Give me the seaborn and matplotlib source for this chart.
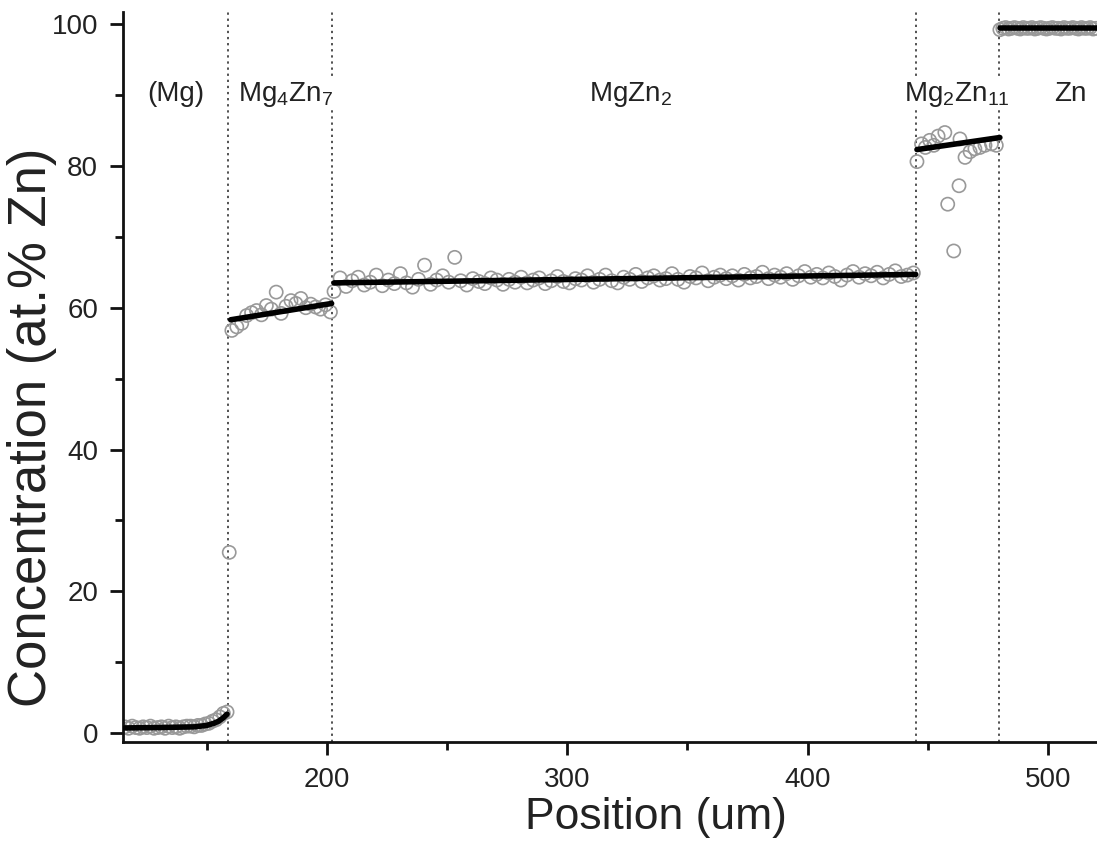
import numpy as np
import pandas as pd
import matplotlib
matplotlib.use("Agg")
import matplotlib.pyplot as plt
import seaborn as sns

# ---------------- data ----------------
# (Mg) solid solution
mg_pos = list(np.linspace(116.0, 158.5, 29)) + [159.4]
mg_conc = [0.9, 0.7, 1.0, 0.8, 0.7, 0.9, 0.8, 1.0, 0.7, 0.8, 0.9, 0.7, 1.0, 0.8, 0.9,
           0.7, 0.9, 1.0, 1.0, 0.9, 1.1, 1.1, 1.3, 1.4, 1.7, 1.9, 2.3, 2.8, 3.0, 25.5]

# Mg4Zn7
mg4_conc = [56.8, 57.3, 57.8, 58.9, 59.3, 59.6, 59.0, 60.3, 59.8, 62.2, 59.2, 60.2,
            61.0, 60.6, 61.3, 60.0, 60.5, 60.1, 59.8, 60.4, 59.4]
mg4_pos = list(np.linspace(160.5, 201.5, len(mg4_conc)))

# MgZn2
mgzn2_conc = [62.3, 64.2, 63.0, 63.8, 64.3, 63.2, 63.6, 64.6, 63.1, 63.9, 63.4, 64.8, 63.5,
              62.9, 64.0, 66.0, 63.3, 63.9, 64.5, 63.6, 67.1, 63.8, 63.2, 64.1, 63.7, 63.4,
              64.2, 63.9, 63.3, 64.0, 63.6, 64.3, 63.5, 63.9, 64.2, 63.4, 63.8, 64.4, 63.7,
              63.5, 64.1, 63.9, 64.5, 63.6, 64.0, 64.6, 63.8, 63.5, 64.3, 64.0, 64.7, 63.7,
              64.2, 64.5, 63.9, 64.1, 64.8, 64.0, 63.6, 64.4, 64.2, 64.9, 63.8, 64.3, 64.6,
              64.1, 64.5, 63.9, 64.7, 64.2, 64.4, 65.0, 64.1, 64.6, 64.3, 64.8, 64.0, 64.5,
              65.1, 64.3, 64.7, 64.2, 64.9, 64.4, 63.9, 64.6, 65.1, 64.3, 64.8, 64.5, 65.0,
              64.2, 64.7, 65.2, 64.4, 64.6, 64.9]
mgzn2_pos = list(np.linspace(203.0, 444.0, len(mgzn2_conc)))

# Mg2Zn11
mg2_pos = [445.5, 447.4, 449.0, 450.8, 452.5, 454.3, 457.1, 458.3, 460.8, 463.0, 463.4,
           465.5, 467.6, 469.6, 471.7, 473.8, 476.5, 478.5]
mg2_conc = [80.6, 83.1, 82.6, 83.6, 82.9, 84.2, 84.7, 74.6, 68.0, 77.2, 83.8,
            81.2, 82.0, 82.4, 82.6, 82.9, 83.1, 82.9]

# Zn
zn_conc = [99.2, 99.4, 99.5, 99.3, 99.4, 99.5, 99.4, 99.3, 99.5, 99.4, 99.4, 99.5, 99.3,
           99.4, 99.5, 99.4, 99.3, 99.4, 99.5, 99.4, 99.4, 99.3, 99.5, 99.4, 99.4, 99.5,
           99.4, 99.3, 99.5, 99.4, 99.4, 99.5, 99.3, 99.4]
zn_pos = list(np.linspace(480.0, 520.0, len(zn_conc)))

# fitted lines (x, y) per phase
fit_mg_x = [116, 130, 145, 150, 153, 155, 157, 158.5]
fit_mg_y = [0.75, 0.8, 0.9, 1.1, 1.4, 1.7, 2.2, 2.7]
fit_mg4_x = [160.0, 202.0]
fit_mg4_y = [58.3, 60.6]
fit_mgzn2_x = [203.0, 445.0]
fit_mgzn2_y = [63.5, 64.7]
fit_mg2_x = [445.5, 480.0]
fit_mg2_y = [82.3, 84.0]
fit_zn_x = [480.0, 521.0]
fit_zn_y = [99.4, 99.4]

boundaries = [159.0, 202.2, 445.0, 479.6]

phase_labels = ["(Mg)", r"Mg$_\mathregular{4}$Zn$_\mathregular{7}$", r"MgZn$_\mathregular{2}$",
                r"Mg$_\mathregular{2}$Zn$_\mathregular{11}$", "Zn"]
phase_label_x = [137.2, 182.8, 326.5, 462.0, 509.1]
phase_label_y = 89.2

# ---------------- plot ----------------
sns.set_theme(style="ticks")
plt.rcParams['font.family'] = ['Liberation Sans', 'DejaVu Sans']
plt.rcParams['mathtext.fontset'] = 'custom'
plt.rcParams['mathtext.rm'] = 'Liberation Sans'
plt.rcParams['mathtext.it'] = 'Liberation Sans'

fig = plt.figure(figsize=(10.97, 8.44), dpi=100)
ax = fig.add_axes([0.1121, 0.1209, 0.8879, 0.8649])

scatter_df = pd.DataFrame({
    "pos": mg_pos + mg4_pos + mgzn2_pos + mg2_pos + zn_pos,
    "conc": mg_conc + mg4_conc + mgzn2_conc + mg2_conc + zn_conc,
})

for b in boundaries:
    ax.axvline(b, color="#222222", lw=1.1, ls=(0, (1.5, 2.5)), zorder=1)

sns.scatterplot(data=scatter_df, x="pos", y="conc", ax=ax, marker="o", s=90,
                facecolors="none", edgecolor="#999999", linewidth=1.2, zorder=2,
                legend=False)

for fx, fy in [(fit_mg_x, fit_mg_y), (fit_mg4_x, fit_mg4_y), (fit_mgzn2_x, fit_mgzn2_y),
               (fit_mg2_x, fit_mg2_y), (fit_zn_x, fit_zn_y)]:
    sns.lineplot(x=fx, y=fy, ax=ax, color="black", lw=4, zorder=3, sort=False,
                 estimator=None)

for lab, lx in zip(phase_labels, phase_label_x):
    ax.text(lx, phase_label_y, lab, ha="center", va="baseline", fontsize=20,
            color="#222222", zorder=4,
            bbox=dict(facecolor="white", edgecolor="none", pad=1.0))

ax.set_xlim(115.2, 520.4)
ax.set_ylim(-1.23, 101.7)
ax.set_xticks([200, 300, 400, 500])
ax.set_xticks([150, 250, 350, 450], minor=True)
ax.set_yticks([0, 20, 40, 60, 80, 100])
ax.set_yticks([10, 30, 50, 70, 90], minor=True)

for side in ["top", "right"]:
    ax.spines[side].set_visible(False)
for side in ["left", "bottom"]:
    ax.spines[side].set_linewidth(2)
    ax.spines[side].set_color("#111111")

ax.tick_params(which="major", length=9.4, width=2, labelsize=20, colors="#111111",
               labelcolor="#222222", pad=8.5)
ax.tick_params(which="minor", length=5.5, width=2, colors="#111111")

ax.set_xlabel("Position (um)", fontsize=32, color="#222222", va="top")
ax.set_ylabel("Concentration (at.% Zn)", fontsize=38, color="#222222")
ax.xaxis.set_label_coords(0.5467, -0.076)
ax.yaxis.set_label_coords(-0.068, 0.4315)

fig.savefig("out.png", dpi=100)
